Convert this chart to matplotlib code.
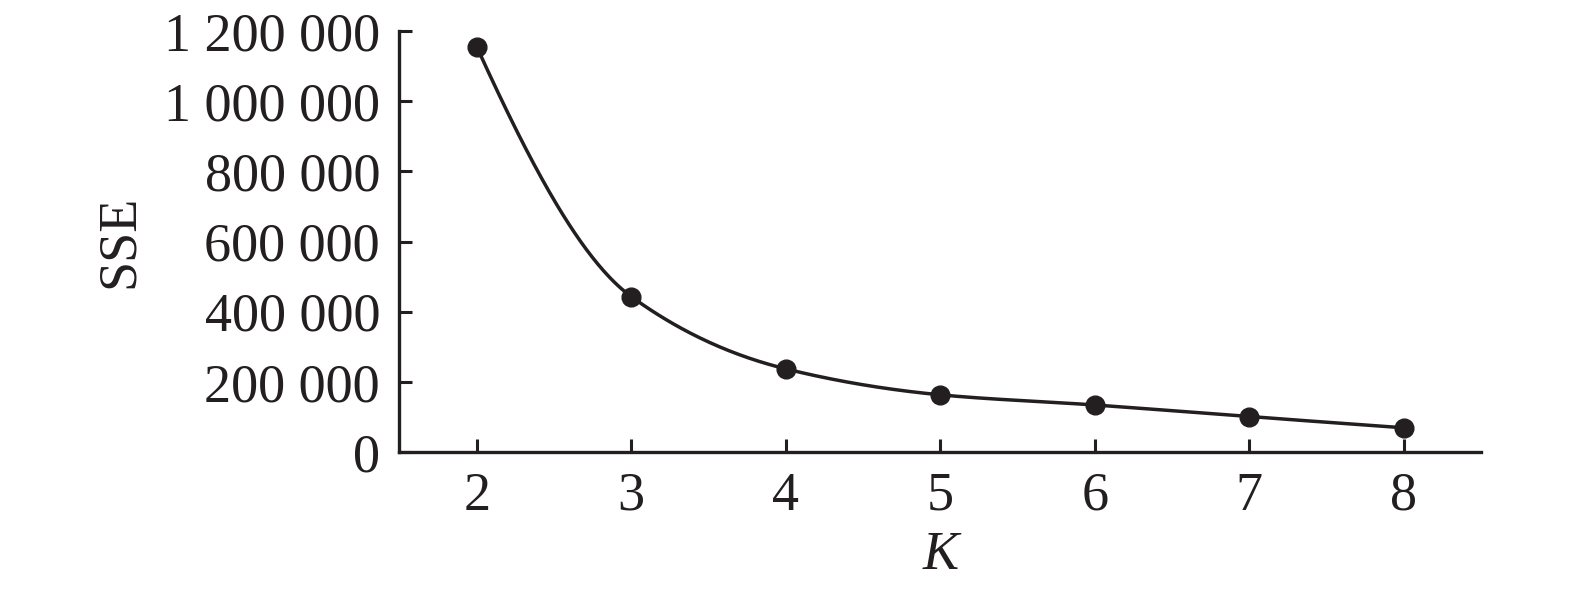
import numpy as np
import matplotlib
matplotlib.use("Agg")
import matplotlib.pyplot as plt
from matplotlib.ticker import FuncFormatter

# Data
k_values = [2, 3, 4, 5, 6, 7, 8]
sse_values = [1155000, 443000, 237000, 163000, 134000, 101000, 69000]
y_ticks = [0, 200000, 400000, 600000, 800000, 1000000, 1200000]

COLOR = "#231f20"
plt.rcParams["font.family"] = ["Liberation Serif", "DejaVu Serif"]


def pchip_curve(x, y, n=80):
    # Monotone piecewise cubic (PCHIP) smoothing through the data points
    x = np.asarray(x, float)
    y = np.asarray(y, float)
    h = np.diff(x)
    delta = np.diff(y) / h
    m = len(x)
    d = np.zeros(m)
    for k in range(1, m - 1):
        if delta[k - 1] * delta[k] > 0:
            w1 = 2 * h[k] + h[k - 1]
            w2 = h[k] + 2 * h[k - 1]
            d[k] = (w1 + w2) / (w1 / delta[k - 1] + w2 / delta[k])
    def end(h0, h1, d0, d1):
        v = ((2 * h0 + h1) * d0 - h0 * d1) / (h0 + h1)
        if np.sign(v) != np.sign(d0):
            v = 0.0
        elif np.sign(d0) != np.sign(d1) and abs(v) > abs(3 * d0):
            v = 3 * d0
        return v
    d[0] = end(h[0], h[1], delta[0], delta[1])
    d[-1] = end(h[-1], h[-2], delta[-1], delta[-2])
    xs, ys = [], []
    for i in range(m - 1):
        t = np.linspace(0, 1, n)
        h00 = 2 * t**3 - 3 * t**2 + 1
        h10 = t**3 - 2 * t**2 + t
        h01 = -2 * t**3 + 3 * t**2
        h11 = t**3 - t**2
        seg_y = h00 * y[i] + h10 * h[i] * d[i] + h01 * y[i + 1] + h11 * h[i] * d[i + 1]
        seg_x = x[i] + t * h[i]
        if i > 0:
            seg_x, seg_y = seg_x[1:], seg_y[1:]
        xs.append(seg_x)
        ys.append(seg_y)
    return np.concatenate(xs), np.concatenate(ys)


fig = plt.figure(figsize=(15.75, 5.93), dpi=100)
ax = fig.add_axes([399.5 / 1575, 1 - 452 / 593, (1481 - 399.5) / 1575, (452 - 31) / 593])

cx, cy = pchip_curve(k_values, sse_values)
ax.plot(cx, cy, color=COLOR, lw=2.5, solid_capstyle="round", zorder=2)
ax.plot(k_values, sse_values, "o", color=COLOR, ms=13.5, zorder=3, clip_on=False)

ax.set_xlim(1.5, 8.5)
ax.set_ylim(0, 1200000)
ax.set_xticks(k_values)
ax.set_yticks(y_ticks)


def fmt(v, pos):
    return f"{int(v):,}".replace(",", " ")


ax.yaxis.set_major_formatter(FuncFormatter(fmt))

for side in ("top", "right"):
    ax.spines[side].set_visible(False)
for side in ("left", "bottom"):
    ax.spines[side].set_linewidth(2.4)
    ax.spines[side].set_color(COLOR)

ax.tick_params(axis="both", direction="in", length=9.5, width=2.2, color=COLOR,
               labelsize=39, labelcolor=COLOR)
ax.tick_params(axis="x", pad=14)
ax.tick_params(axis="y", pad=14)

ax.set_xlabel("K", fontsize=39, style="italic", color=COLOR, labelpad=6)
ax.set_ylabel("SSE", fontsize=39, color=COLOR, labelpad=14)

fig.savefig("out.png", dpi=100)
